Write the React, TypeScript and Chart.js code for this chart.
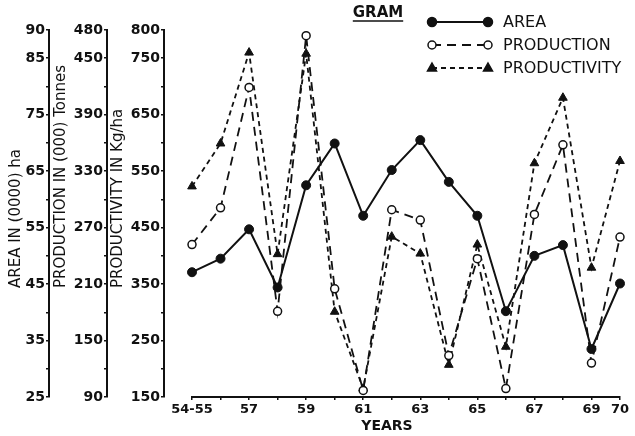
import React, { useEffect, useRef } from 'react';
import { Chart, registerables } from 'chart.js';

Chart.register(...registerables);

const years = ['54-55', '56', '57', '58', '59', '60', '61', '62', '63', '64', '65', '66', '67', '68', '69', '70'];
const shownYears = ['54-55', '57', '59', '61', '63', '65', '67', '69', '70'];

const area = [47.1, 49.5, 54.7, 44.4, 62.5, 69.9, 57.1, 65.2, 70.5, 63.1, 57.1, 40.2, 50.0, 51.9, 33.5, 45.1];
const production = [252, 291, 419, 181, 474, 205, 97, 289, 278, 134, 237, 99, 284, 358, 126, 260];
const productivity = [523, 599, 760, 403, 758, 301, 165, 434, 404, 207, 420, 239, 564, 680, 379, 568];

const areaTicks = [25, 35, 45, 55, 65, 75, 85, 90];
const productionTicks = [90, 150, 210, 270, 330, 390, 450, 480];
const productivityTicks = [150, 250, 350, 450, 550, 650, 750, 800];

const FONT = '"DejaVu Sans", sans-serif';
const INK = '#111';

function drawMarker(ctx: CanvasRenderingContext2D, style: string, x: number, y: number, r: number, fill: string) {
  ctx.save();
  ctx.beginPath();
  if (style === 'triangle') {
    ctx.moveTo(x, y - r);
    ctx.lineTo(x + r * 0.9, y + r * 0.6);
    ctx.lineTo(x - r * 0.9, y + r * 0.6);
    ctx.closePath();
  } else {
    ctx.arc(x, y, r, 0, Math.PI * 2);
  }
  ctx.fillStyle = fill;
  ctx.fill();
  ctx.lineWidth = 1.5;
  ctx.strokeStyle = INK;
  ctx.setLineDash([]);
  ctx.stroke();
  ctx.restore();
}

export default function App() {
  const ref = useRef<HTMLCanvasElement>(null);

  useEffect(() => {
    if (!ref.current) return;

    const axisTitles = [
      { id: 'yArea', text: 'AREA IN (0000) ha', dx: 16 },
      { id: 'yProd', text: 'PRODUCTION IN (000) Tonnes', dx: 12 },
      { id: 'yPrody', text: 'PRODUCTIVITY IN Kg/ha', dx: 11 },
    ];

    const overlay = {
      id: 'overlay',
      afterDraw(chart: any) {
        const ctx: CanvasRenderingContext2D = chart.ctx;
        const ca = chart.chartArea;
        ctx.save();
        ctx.fillStyle = INK;
        ctx.strokeStyle = INK;

        // Axis titles (rotated)
        ctx.font = `15px ${FONT}`;
        axisTitles.forEach((t) => {
          const s = chart.scales[t.id];
          ctx.save();
          ctx.translate(s.left + t.dx, ca.bottom - 109);
          ctx.rotate(-Math.PI / 2);
          ctx.textAlign = 'left';
          ctx.textBaseline = 'middle';
          ctx.fillText(t.text, 0, 0);
          ctx.restore();
        });

        // X axis title
        ctx.font = `bold 14px ${FONT}`;
        ctx.textAlign = 'center';
        ctx.textBaseline = 'middle';
        ctx.fillText('YEARS', (ca.left + ca.right) / 2 - 19, ca.bottom + 29);

        // Chart title with underline
        ctx.font = `bold 15px ${FONT}`;
        const gx = 378;
        const gy = 13;
        ctx.fillText('GRAM', gx, gy);
        const w = ctx.measureText('GRAM').width;
        ctx.lineWidth = 1.5;
        ctx.beginPath();
        ctx.moveTo(gx - w / 2, gy + 8);
        ctx.lineTo(gx + w / 2, gy + 8);
        ctx.stroke();

        // Legend
        const rows = [22, 45, 68];
        const x0 = 432;
        const x1 = 488;
        ctx.font = `16px ${FONT}`;
        ctx.textAlign = 'left';
        chart.data.datasets.forEach((ds: any, i: number) => {
          const y = rows[i];
          ctx.save();
          ctx.lineWidth = ds.borderWidth;
          ctx.setLineDash(ds.borderDash || []);
          ctx.beginPath();
          ctx.moveTo(x0, y);
          ctx.lineTo(x1, y);
          ctx.stroke();
          ctx.restore();
          drawMarker(ctx, ds.pointStyle, x0, y, ds.pointRadius, ds.pointBackgroundColor);
          drawMarker(ctx, ds.pointStyle, x1, y, ds.pointRadius, ds.pointBackgroundColor);
          ctx.fillStyle = INK;
          ctx.fillText(ds.label, 503, y + 1);
        });
        ctx.restore();
      },
    };

    const xTickFont = { family: FONT, size: 13, weight: 'bold' as const };
    const yTickFont = { family: FONT, size: 14, weight: 'bold' as const };

    const yAxis = (min: number, max: number, step: number, labels: number[], weight: number, width: number) => ({
      type: 'linear' as const,
      position: 'left' as const,
      weight,
      min,
      max,
      grid: { display: true, drawOnChartArea: false, drawTicks: true, tickLength: 3, color: INK, lineWidth: 1.5 },
      border: { display: true, color: INK, width: 2 },
      ticks: {
        stepSize: step,
        autoSkip: false,
        padding: 1,
        color: INK,
        font: yTickFont,
        callback: (v: any) => (labels.includes(Number(v)) ? String(v) : ''),
      },
      afterFit: (s: any) => {
        s.width = width;
      },
    });

    const chart = new Chart(ref.current, {
      type: 'line',
      data: {
        labels: years,
        datasets: [
          {
            label: 'AREA',
            data: area,
            yAxisID: 'yArea',
            borderColor: INK,
            borderWidth: 2,
            pointStyle: 'circle',
            pointRadius: 4.5,
            pointBackgroundColor: INK,
            pointBorderColor: INK,
            pointBorderWidth: 1,
            tension: 0,
            clip: false as any,
          },
          {
            label: 'PRODUCTION',
            data: production,
            yAxisID: 'yProd',
            borderColor: INK,
            borderWidth: 1.8,
            borderDash: [9, 6],
            pointStyle: 'circle',
            pointRadius: 4,
            pointBackgroundColor: '#fff',
            pointBorderColor: INK,
            pointBorderWidth: 1.5,
            tension: 0,
            clip: false as any,
          },
          {
            label: 'PRODUCTIVITY',
            data: productivity,
            yAxisID: 'yPrody',
            borderColor: INK,
            borderWidth: 1.8,
            borderDash: [5, 4],
            pointStyle: 'triangle',
            pointRadius: 5,
            pointBackgroundColor: INK,
            pointBorderColor: INK,
            pointBorderWidth: 1,
            tension: 0,
            clip: false as any,
          },
        ],
      },
      options: {
        responsive: false,
        animation: false,
        layout: { padding: { top: 30, right: 15, left: 0, bottom: 0 } },
        plugins: {
          legend: { display: false },
          tooltip: { enabled: false },
          title: { display: false },
        },
        scales: {
          x: {
            type: 'category',
            offset: false,
            grid: { display: true, drawOnChartArea: false, tickLength: 3, color: INK, lineWidth: 1.5 },
            border: { display: true, color: INK, width: 2 },
            ticks: {
              autoSkip: false,
              maxRotation: 0,
              padding: 2,
              color: INK,
              font: xTickFont,
              callback: (_v: any, i: number) => (shownYears.includes(years[i]) ? years[i] : ''),
            },
            afterFit: (s: any) => {
              s.height = 39;
            },
          },
          yArea: yAxis(25, 90, 5, areaTicks, 4, 49),
          yProd: yAxis(90, 480, 30, productionTicks, 3, 58),
          yPrody: yAxis(150, 800, 50, productivityTicks, 2, 57),
          yGap: {
            type: 'linear',
            position: 'left',
            weight: 1,
            display: true,
            grid: { display: false },
            border: { display: false },
            ticks: { display: false },
            afterFit: (s: any) => {
              s.width = 28;
            },
          },
        },
      } as any,
      plugins: [overlay],
    });

    return () => chart.destroy();
  }, []);

  return (
    <div style={{ position: 'absolute', left: 0, top: 0, width: 635, height: 436, background: '#fff' }}>
      <canvas ref={ref} width={635} height={436} style={{ display: 'block' }} />
    </div>
  );
}
